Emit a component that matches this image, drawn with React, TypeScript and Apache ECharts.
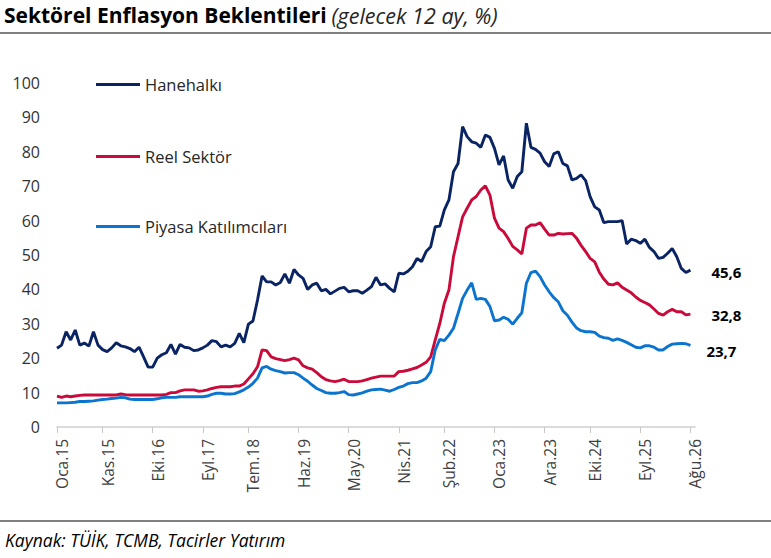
import React, { useEffect, useRef } from "react";
import * as echarts from "echarts";

const MONTHS_TR = ["Oca", "Şub", "Mar", "Nis", "May", "Haz", "Tem", "Ağu", "Eyl", "Eki", "Kas", "Ara"];
const START_YEAR = 2015;
const N_CATEGORIES = 141;
const CATEGORIES = Array.from(
  { length: N_CATEGORIES },
  (_, i) => `${MONTHS_TR[i % 12]}.${String((START_YEAR + Math.floor(i / 12)) % 100)}`
);
const TICK_LABELS = [
  "Oca.15", "Kas.15", "Eki.16", "Eyl.17", "Tem.18", "Haz.19", "May.20",
  "Nis.21", "Şub.22", "Oca.23", "Ara.23", "Eki.24", "Eyl.25", "Ağu.26",
];

const SERIES_NAMES = ["Hanehalkı", "Reel Sektör", "Piyasa Katılımcıları"];

const HANEHALKI = [
  22.9, 23.8, 27.7, 25.3, 28.2, 23.8, 24.4, 23.5, 27.7, 23.8,
  22.5, 21.9, 23.0, 24.5, 23.6, 23.3, 22.8, 21.9, 23.2, 20.4,
  17.4, 17.4, 20.0, 21.0, 21.6, 24.0, 21.2, 24.0, 23.2, 23.0,
  22.2, 22.4, 23.0, 23.8, 25.1, 24.8, 23.3, 23.8, 23.3, 24.3,
  27.2, 24.5, 29.9, 30.8, 36.9, 43.9, 42.2, 42.2, 41.3, 42.0,
  44.5, 41.8, 45.8, 44.2, 43.2, 40.0, 41.3, 41.8, 39.6, 40.0,
  38.7, 39.5, 40.3, 40.6, 39.3, 39.6, 39.6, 38.9, 39.8, 40.8,
  43.5, 41.3, 41.6, 40.3, 39.3, 44.7, 44.5, 45.3, 46.6, 49.0,
  48.1, 51.0, 52.4, 58.2, 58.4, 63.1, 66.0, 74.2, 76.6, 87.3,
  84.4, 82.9, 82.5, 81.3, 84.9, 84.2, 81.0, 76.2, 78.8, 71.8,
  69.4, 72.8, 74.2, 88.3, 81.3, 80.7, 79.6, 77.1, 75.7, 79.4,
  80.0, 76.6, 75.9, 71.8, 72.3, 73.3, 71.6, 66.9, 64.0, 63.1,
  59.4, 59.7, 59.7, 59.7, 60.0, 53.2, 54.6, 54.2, 53.4, 54.6,
  52.2, 51.0, 49.0, 49.3, 50.5, 51.9, 49.5, 46.1, 44.9, 45.6,
];

const REEL_SEKTOR = [
  9.0, 8.6, 9.0, 8.8, 9.0, 9.2, 9.3, 9.3, 9.3, 9.3,
  9.3, 9.3, 9.3, 9.3, 9.6, 9.4, 9.3, 9.3, 9.3, 9.3,
  9.3, 9.3, 9.3, 9.3, 9.5, 10.0, 10.0, 10.5, 10.8, 10.8,
  10.8, 10.4, 10.5, 10.8, 11.2, 11.5, 11.7, 11.7, 11.7, 11.9,
  11.9, 12.5, 14.0, 15.5, 17.5, 22.4, 22.2, 20.4, 19.9, 19.6,
  19.3, 19.6, 20.0, 19.5, 17.8, 17.2, 16.8, 15.8, 14.6, 13.8,
  13.4, 13.2, 13.5, 13.9, 13.2, 13.2, 13.2, 13.4, 13.8, 14.2,
  14.5, 14.8, 14.8, 14.8, 14.8, 16.1, 16.2, 16.5, 16.9, 17.3,
  18.0, 18.8, 20.4, 25.3, 30.1, 36.0, 39.8, 49.5, 55.3, 61.1,
  63.6, 66.0, 67.0, 68.9, 70.1, 67.4, 60.7, 57.8, 56.8, 54.8,
  52.5, 51.5, 50.3, 57.8, 58.7, 58.7, 59.4, 57.5, 55.8, 55.8,
  56.3, 56.1, 56.2, 56.3, 54.9, 52.8, 51.0, 49.0, 48.0, 45.0,
  43.0, 41.5, 41.3, 41.9, 40.6, 39.8, 39.0, 37.8, 36.8, 36.2,
  35.5, 34.3, 33.0, 32.5, 33.5, 34.2, 33.5, 33.5, 32.6, 32.8,
];

const PIYASA = [
  7.0, 7.0, 7.0, 7.1, 7.2, 7.4, 7.4, 7.5, 7.6, 7.8,
  8.0, 8.1, 8.3, 8.4, 8.6, 8.5, 8.1, 8.0, 8.0, 8.0,
  8.0, 8.0, 8.2, 8.5, 8.6, 8.6, 8.6, 8.8, 8.8, 8.8,
  8.8, 8.8, 8.8, 9.0, 9.5, 9.8, 9.8, 9.6, 9.6, 9.7,
  10.2, 10.8, 11.6, 12.7, 14.2, 17.2, 17.6, 16.8, 16.4, 16.1,
  15.7, 15.8, 15.8, 15.2, 14.2, 13.3, 12.2, 11.2, 10.6, 10.0,
  9.8, 9.8, 10.0, 10.3, 9.4, 9.3, 9.6, 9.9, 10.4, 10.8,
  10.9, 11.0, 10.7, 10.4, 10.9, 11.5, 11.9, 12.6, 12.9, 12.9,
  13.4, 14.2, 16.1, 22.4, 25.5, 25.1, 26.7, 28.7, 33.0, 37.4,
  39.8, 41.9, 37.1, 37.4, 37.1, 35.0, 30.9, 31.1, 31.9, 31.3,
  29.9, 31.6, 33.2, 41.8, 44.9, 45.3, 43.7, 41.3, 39.3, 37.6,
  36.4, 33.8, 32.5, 30.5, 28.8, 28.0, 27.7, 27.7, 27.5, 26.4,
  26.0, 25.8, 25.2, 25.6, 25.2, 24.6, 23.9, 23.2, 23.0, 23.6,
  23.6, 23.2, 22.4, 22.4, 23.4, 24.1, 24.2, 24.3, 24.2, 23.7,
];

const COLORS = ["#0a2463", "#c90a3a", "#0b74cf"];
const FONT = "'Open Sans', sans-serif";

const isTick = (_idx: number, value: string) => TICK_LABELS.indexOf(value) >= 0;
const fmt = (p: any) => {
  const v = Array.isArray(p.value) ? p.value[1] : p.value;
  return Number(v).toFixed(1).replace(".", ",");
};

export default function App() {
  const ref = useRef<HTMLDivElement>(null);

  useEffect(() => {
    document.body.style.margin = "0";
    if (!ref.current) return;
    const chart = echarts.init(ref.current, null, { renderer: "svg" });

    const legendTops = [76, 148, 218];
    const endOffsets = [
      [13, 2],
      [13, 1],
      [8, 6],
    ];
    const datasets = [HANEHALKI, REEL_SEKTOR, PIYASA];

    chart.setOption({
      animation: false,
      textStyle: { fontFamily: FONT },
      title: {
        text: "{b|Sektörel Enflasyon Beklentileri} {i|(gelecek 12 ay, %)}",
        left: 4,
        top: 4,
        padding: 0,
        textStyle: {
          rich: {
            b: { fontSize: 21, fontWeight: "bold", color: "#000", fontFamily: FONT },
            i: { fontSize: 21.5, fontWeight: "normal", fontStyle: "italic", color: "#262626", fontFamily: FONT },
          },
        },
      },
      legend: SERIES_NAMES.map((name, k) => ({
        data: [name],
        left: 96,
        top: legendTops[k],
        padding: 0,
        icon: "rect",
        itemWidth: 44,
        itemHeight: 3,
        textStyle: { fontSize: 16.5, color: "#262626", fontFamily: FONT },
      })),
      grid: { left: 57, right: 76, top: 83, bottom: 131 },
      xAxis: {
        type: "category",
        data: CATEGORIES,
        boundaryGap: false,
        axisLine: { lineStyle: { color: "#d0d0d0", width: 1.5 } },
        axisTick: { show: true, interval: isTick, length: 6, lineStyle: { color: "#c8c8c8" } },
        axisLabel: {
          interval: isTick,
          rotate: 90,
          margin: 12,
          fontSize: 15.5,
          color: "#404040",
          fontFamily: FONT,
          verticalAlign: "top",
          lineHeight: 10,
        },
        splitLine: { show: false },
      },
      yAxis: {
        type: "value",
        min: 0,
        max: 100,
        interval: 10,
        axisLine: { show: false },
        axisTick: { show: false },
        splitLine: { show: false },
        axisLabel: { fontSize: 16, color: "#333", margin: 17, fontFamily: FONT },
      },
      series: SERIES_NAMES.map((name, k) => ({
        name,
        type: "line",
        data: datasets[k],
        showSymbol: false,
        symbol: "none",
        lineStyle: { color: COLORS[k], width: 2.9 },
        itemStyle: { color: COLORS[k] },
        endLabel: {
          show: true,
          formatter: fmt,
          offset: endOffsets[k],
          fontSize: 15,
          fontWeight: "bold",
          color: "#000",
          fontFamily: FONT,
        },
      })),
      graphic: [
        {
          type: "line",
          shape: { x1: 0, y1: 33, x2: 771, y2: 33 },
          style: { stroke: "#000", lineWidth: 1 },
        },
        {
          type: "line",
          shape: { x1: 0, y1: 521, x2: 771, y2: 521 },
          style: { stroke: "#000", lineWidth: 1 },
        },
        {
          type: "text",
          left: 5,
          top: 531,
          style: {
            text: "Kaynak: TÜİK, TCMB, Tacirler Yatırım",
            font: "italic 17.5px 'Open Sans', sans-serif",
            fill: "#000",
          },
        },
      ],
    });

    return () => chart.dispose();
  }, []);

  return <div ref={ref} style={{ width: 771, height: 558 }} />;
}
